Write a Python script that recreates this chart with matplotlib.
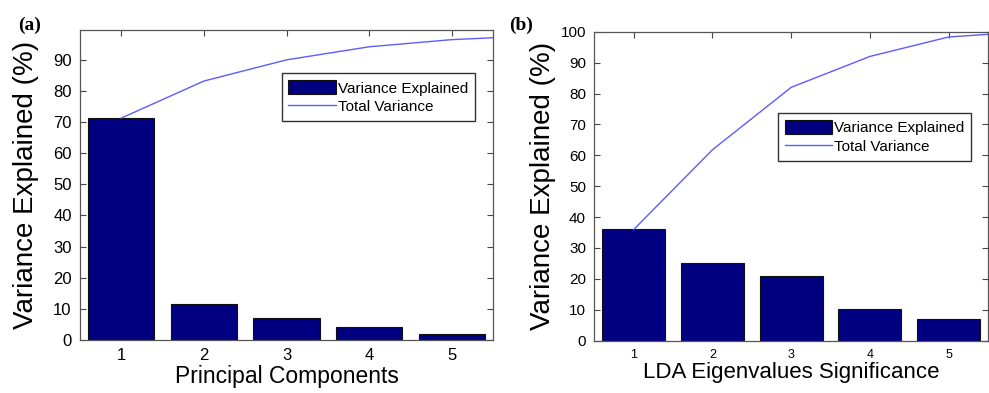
import matplotlib.pyplot as plt

components = [1, 2, 3, 4, 5]

# panel (a): PCA
pca_explained = [71.3, 11.6, 7.2, 4.1, 1.9]
pca_total_x = [1, 2, 3, 4, 5, 6]
pca_total = [71.3, 83.2, 90.0, 94.2, 96.5, 97.7]

# panel (b): LDA
lda_explained = [36.0, 25.2, 20.9, 10.1, 7.0]
lda_total_x = [1, 2, 3, 4, 5, 6]
lda_total = [36.0, 61.8, 82.0, 92.0, 98.3, 100.0]

BAR = '#000080'
LINE = '#5c5cff'


def style_axes(ax, ymax, yticks, xsize, ysize):
    ax.set_xlim(0.5, 5.5)
    ax.set_ylim(0, ymax)
    ax.set_xticks(components)
    ax.set_yticks(yticks)
    ax.tick_params(direction='in', top=True, right=True, length=4,
                   color='#444444', pad=6)
    ax.tick_params(axis='x', labelsize=xsize)
    ax.tick_params(axis='y', labelsize=ysize)
    for s in ax.spines.values():
        s.set_color('#555555')
        s.set_linewidth(0.9)


def panel(ax, explained, tx, total, ymax, yticks, xlabel, xsize, ysize,
          xlab_size, ylab_pad, legend_pos):
    bars = ax.bar(components, explained, width=0.8, color=BAR, edgecolor='#111111',
                  linewidth=0.8, zorder=2)
    line, = ax.plot(tx, total, color=LINE, lw=1.0, zorder=3)
    style_axes(ax, ymax, yticks, xsize, ysize)
    ax.set_ylabel('Variance Explained (%)', fontsize=20, labelpad=ylab_pad)
    ax.set_xlabel(xlabel, fontsize=xlab_size, labelpad=1)
    leg = ax.legend([bars, line], ['Variance Explained', 'Total Variance'],
                    loc='upper left', bbox_to_anchor=legend_pos, fontsize=11,
                    fancybox=False, framealpha=1, edgecolor='#333333',
                    handlelength=3.1, handleheight=1.05, handletextpad=0.15,
                    borderpad=0.45, labelspacing=0.2, borderaxespad=0)
    leg.get_frame().set_linewidth(1.0)


plt.rcParams['font.family'] = ['Liberation Sans', 'DejaVu Sans']

fig = plt.figure(figsize=(9.89, 3.93), dpi=100)
ax1 = fig.add_axes([0.0809, 0.1349, 0.4176, 0.7888])
ax2 = fig.add_axes([0.6010, 0.1331, 0.3980, 0.7862])

panel(ax1, pca_explained, pca_total_x, pca_total, 99.6, range(0, 100, 10),
      'Principal Components', 12, 12, 16.5, 10, (0.488, 0.86))
panel(ax2, lda_explained, lda_total_x, lda_total, 100, range(0, 101, 10),
      'LDA Eigenvalues Significance', 9, 11, 16, 3, (0.466, 0.736))

fig.text(0.018, 0.925, '(a)', fontsize=14, fontweight='bold', family='Liberation Serif')
fig.text(0.515, 0.925, '(b)', fontsize=14, fontweight='bold', family='Liberation Serif')

fig.savefig('out.png', dpi=100)
